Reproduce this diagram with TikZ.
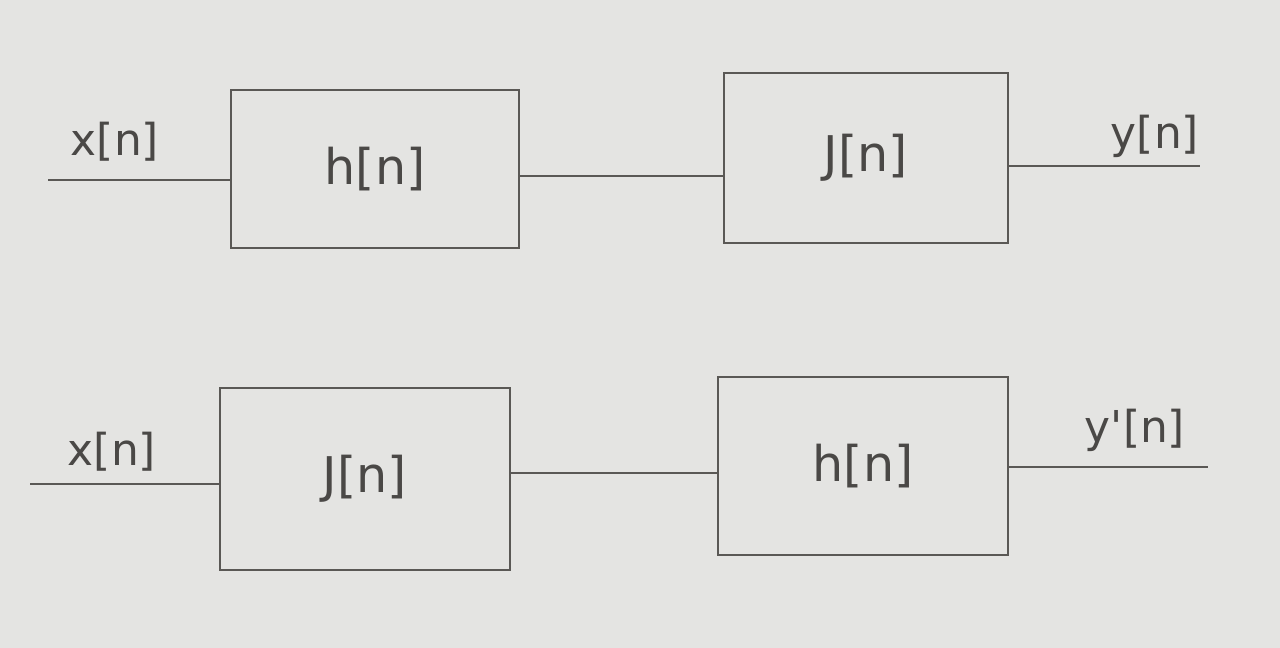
\documentclass[tikz,border=0pt]{standalone}
\usepackage{fontspec}
\setmainfont{DejaVu Sans}
\definecolor{paper}{HTML}{E4E4E2}
\definecolor{pencil}{HTML}{5A5855}
\definecolor{ink}{HTML}{4A4846}
\begin{document}
\begin{tikzpicture}[x=0.02cm,y=-0.02cm,
  blk/.style={draw=pencil,line width=1.6pt,inner sep=0pt,text=ink,font=\fontsize{28}{32}\selectfont},
  wire/.style={draw=pencil,line width=1.6pt},
  lbl/.style={text=ink,inner sep=0pt,font=\fontsize{25}{29}\selectfont}]
\fill[paper] (0,0) rectangle (1280,648);
\useasboundingbox (0,0) rectangle (1280,648);
% top row
\node[blk,minimum width=5.76cm,minimum height=3.16cm] (b1) at (375,169) {h[n]};
\node[blk,minimum width=5.68cm,minimum height=3.40cm] (b2) at (866,158) {J[n]};
\coordinate (i1) at (48,180);
\coordinate (o1) at (1200,166);
\draw[wire] (i1) -- (i1 -| b1.west);
\draw[wire] (b1.east |- 0,176) -- (b2.west |- 0,176);
\draw[wire] (b2.east |- o1) -- (o1);
\node[lbl] (lx1) at (115,142) {x[n]};
\node[lbl] (ly1) at (1155,136) {y[n]};
% bottom row
\node[blk,minimum width=5.80cm,minimum height=3.64cm] (b3) at (365,479) {J[n]};
\node[blk,minimum width=5.80cm,minimum height=3.56cm] (b4) at (863,466) {h[n]};
\coordinate (i2) at (30,484);
\coordinate (o2) at (1208,467);
\draw[wire] (i2) -- (i2 -| b3.west);
\draw[wire] (b3.east |- 0,473) -- (b4.west |- 0,473);
\draw[wire] (b4.east |- o2) -- (o2);
\node[lbl] (lx2) at (112,452) {x[n]};
\node[lbl] (ly2) at (1135,430) {y\textquotesingle[n]};
\end{tikzpicture}
\end{document}
